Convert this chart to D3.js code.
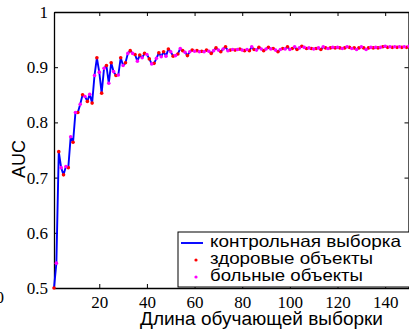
<!DOCTYPE html>
<html>
<head>
<meta charset="utf-8">
<script src="https://cdn.jsdelivr.net/npm/d3@7"></script>
<style>
  html, body { margin: 0; padding: 0; background: #fff; }
  svg { display: block; }
</style>
</head>
<body>
<svg id="chart" width="409" height="330"></svg>
<script>
// Training-set size (number of objects)
const sampleSizes = d3.range(1, 151);

// AUC on the control sample for each training-set size
const aucControl = [
  0.500, 0.545, 0.747, 0.718, 0.705, 0.720, 0.718, 0.774, 0.764, 0.818,
  0.818, 0.833, 0.850, 0.847, 0.838, 0.851, 0.835, 0.885, 0.917, 0.891,
  0.853, 0.898, 0.903, 0.871, 0.908, 0.892, 0.885, 0.886, 0.917, 0.903,
  0.908, 0.925, 0.930, 0.925, 0.923, 0.911, 0.922, 0.917, 0.925, 0.923,
  0.915, 0.906, 0.907, 0.916, 0.926, 0.919, 0.928, 0.920, 0.933, 0.928,
  0.920, 0.921, 0.924, 0.934, 0.930, 0.927, 0.921, 0.928, 0.931, 0.929,
  0.930, 0.928, 0.929, 0.928, 0.931, 0.929, 0.925, 0.930, 0.935, 0.931,
  0.928, 0.933, 0.937, 0.930, 0.931, 0.932, 0.931, 0.932, 0.933, 0.931,
  0.930, 0.932, 0.930, 0.937, 0.932, 0.931, 0.936, 0.933, 0.930, 0.933,
  0.936, 0.933, 0.934, 0.931, 0.928, 0.932, 0.934, 0.933, 0.937, 0.932,
  0.934, 0.937, 0.932, 0.935, 0.938, 0.936, 0.934, 0.935, 0.934, 0.933,
  0.934, 0.935, 0.932, 0.937, 0.935, 0.934, 0.935, 0.936, 0.935, 0.936,
  0.935, 0.934, 0.935, 0.937, 0.936, 0.934, 0.935, 0.932, 0.935, 0.937,
  0.935, 0.932, 0.935, 0.936, 0.935, 0.936, 0.935, 0.936, 0.937, 0.938,
  0.936, 0.937, 0.936, 0.937, 0.936, 0.937, 0.936, 0.937, 0.936, 0.938
];

const xTicks = [20, 40, 60, 80, 100, 120, 140];
const yTicks = [0.5, 0.6, 0.7, 0.8, 0.9, 1];

const legendLabels = ["контрольная выборка", "здоровые объекты", "больные объекты"];
const xLabel = "Длина обучающей выборки";
const yLabel = "AUC";

const points = sampleSizes.map((n, i) => ({ n, v: aucControl[i] }));
// healthy-object markers at odd sizes, sick-object markers at even sizes
const healthy = points.filter(d => d.n % 2 === 1);
const sick = points.filter(d => d.n % 2 === 0);

const svg = d3.select("#chart");
const serif = "'Liberation Serif', 'Times New Roman', serif";
const sans = "'Liberation Sans', Arial, sans-serif";

const x = d3.scaleLinear().domain([1, 150]).range([54, 409]);
const y = d3.scaleLinear().domain([0.5, 1]).range([288, 12]);

function styleAxis(g) {
  g.selectAll("path.domain").attr("stroke", "#000").attr("stroke-width", 1.3);
  g.selectAll(".tick line").attr("stroke", "#000").attr("stroke-width", 1);
  g.selectAll("text").attr("font-family", serif).attr("font-size", 17).attr("fill", "#000");
}

// bottom axis with labels
svg.append("g")
  .attr("transform", "translate(0,288)")
  .call(d3.axisBottom(x).tickValues(xTicks).tickSize(-4).tickSizeOuter(0)
    .tickPadding(8).tickFormat(d3.format("d")))
  .call(styleAxis);

// top axis, ticks only
svg.append("g")
  .attr("transform", "translate(0,12)")
  .call(d3.axisTop(x).tickValues(xTicks).tickSize(-4).tickSizeOuter(0).tickFormat(""))
  .call(styleAxis);

// left axis with labels
svg.append("g")
  .attr("transform", "translate(54,0)")
  .call(d3.axisLeft(y).tickValues(yTicks).tickSize(-4).tickSizeOuter(0)
    .tickPadding(6).tickFormat(d3.format("~g")))
  .call(styleAxis);

// right axis, ticks only
svg.append("g")
  .attr("transform", "translate(408.5,0)")
  .call(d3.axisRight(y).tickValues(yTicks).tickSize(-4).tickSizeOuter(0).tickFormat(""))
  .call(styleAxis);

// stray tick label at the lower-left corner
svg.append("text")
  .attr("x", 4).attr("y", 303)
  .attr("text-anchor", "end")
  .attr("font-family", serif).attr("font-size", 17)
  .text("0");

// control-sample curve
svg.append("path")
  .datum(points)
  .attr("fill", "none")
  .attr("stroke", "#0000ff")
  .attr("stroke-width", 1.9)
  .attr("stroke-linejoin", "round")
  .attr("d", d3.line().x(d => x(d.n)).y(d => y(d.v)));

svg.append("g").selectAll("circle")
  .data(healthy).join("circle")
  .attr("cx", d => x(d.n)).attr("cy", d => y(d.v)).attr("r", 1.8)
  .attr("fill", "#ff0000");

svg.append("g").selectAll("circle")
  .data(sick).join("circle")
  .attr("cx", d => x(d.n)).attr("cy", d => y(d.v)).attr("r", 1.8)
  .attr("fill", "#ff00ff");

// axis titles
svg.append("text")
  .attr("x", 140).attr("y", 324.5)
  .attr("textLength", 243).attr("lengthAdjust", "spacingAndGlyphs")
  .attr("font-family", sans).attr("font-size", 18)
  .text(xLabel);

svg.append("text")
  .attr("transform", "translate(25,159) rotate(-90)")
  .attr("text-anchor", "middle")
  .attr("font-family", sans).attr("font-size", 18)
  .text(yLabel);

// legend
const lg = svg.append("g");
lg.append("rect")
  .attr("x", 178).attr("y", 232).attr("width", 240).attr("height", 55)
  .attr("fill", "#fff").attr("stroke", "#000").attr("stroke-width", 1);

const rowY = [247, 264, 281];
const rowWidth = [191, 163, 153];
lg.append("line")
  .attr("x1", 181).attr("x2", 203).attr("y1", rowY[0] - 4).attr("y2", rowY[0] - 4)
  .attr("stroke", "#0000ff").attr("stroke-width", 1.9);
lg.append("circle").attr("cx", 196).attr("cy", rowY[1] - 4).attr("r", 1.6).attr("fill", "#ff0000");
lg.append("circle").attr("cx", 196).attr("cy", rowY[2] - 4).attr("r", 1.6).attr("fill", "#ff00ff");

lg.selectAll("text.lbl")
  .data(legendLabels).join("text")
  .attr("class", "lbl")
  .attr("x", 210).attr("y", (d, i) => rowY[i])
  .attr("textLength", (d, i) => rowWidth[i]).attr("lengthAdjust", "spacingAndGlyphs")
  .attr("font-family", sans).attr("font-size", 16.5)
  .text(d => d);
</script>
</body>
</html>
